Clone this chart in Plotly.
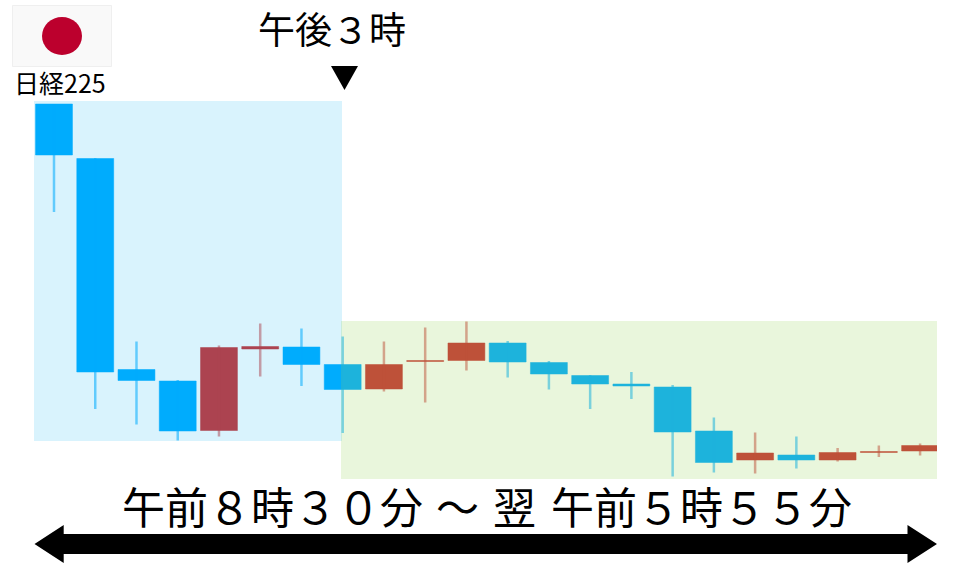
import plotly.graph_objects as go

index = list(range(22))
opens = [375, 320.5, 109.5, 98, 48.5, 130, 132, 114.5, 90, 117.5, 118.5, 136, 116.5, 103.5, 95, 92, 48, 19, 24, 19, 26.5, 28]
highs = [375, 321, 137.5, 99, 133.5, 155.5, 150.5, 142.5, 137.5, 151.5, 157.5, 138, 118, 104, 107, 94, 61.5, 46.5, 42.5, 31, 33.5, 35.5]
lows = [267, 70, 54.5, 38.5, 42.5, 102.5, 93, 46, 87.5, 76.5, 108.5, 101.5, 89.5, 70, 80, 2.5, 6.5, 5.5, 10.5, 17.5, 22, 23.5]
closes = [324, 107, 98.5, 48, 131.5, 132.5, 114.5, 89.5, 114.5, 118.5, 136, 117, 105, 95, 93, 47, 16.5, 26, 19, 26.5, 27.5, 33.5]

top_label = "午後３時"
span_start = "午前８時３０分"
span_tilde = "～"
span_next = "翌"
span_end = "午前５時５５分"
flag_label = "日経225"
FONT = "Noto Sans CJK JP"
W, H = 960, 567


def px(x):
    return x / W


def py(y):
    return 1 - y / H


def pth(points):
    return "M" + " L".join(f"{px(x):.5f},{py(y):.5f}" for x, y in points) + " Z"


fig = go.Figure()


def add_candles(rising, fill, edge, wick):
    rows = [i for i in index if (closes[i] > opens[i]) == rising]
    tops = [max(opens[i], closes[i]) for i in rows]
    bottoms = [min(opens[i], closes[i]) for i in rows]
    fig.add_trace(go.Bar(
        x=rows,
        base=bottoms,
        y=[t - b for t, b in zip(tops, bottoms)],
        width=0.895,
        marker=dict(color=fill, line=dict(width=1, color=edge)),
        error_y=dict(
            type="data", symmetric=False,
            array=[highs[i] - t for i, t in zip(rows, tops)],
            arrayminus=[t - lows[i] for i, t in zip(rows, tops)],
            color=wick, thickness=2.5, width=0,
        ),
        showlegend=False, hoverinfo="skip",
    ))


add_candles(True, "#CA3134", "rgba(202,49,52,0.5)", "rgba(202,49,52,0.5)")
add_candles(False, "#00ACFF", "rgba(0,172,255,0.5)", "rgba(0,172,255,0.55)")


def rect(x0, y0, x1, y1, **kw):
    return dict(type="rect", xref="paper", yref="paper", x0=px(x0), x1=px(x1), y0=py(y0), y1=py(y1), **kw)


shapes = [
    rect(34, 101, 342, 441, fillcolor="rgba(0,176,240,0.15)", line_width=0, layer="above"),
    rect(341, 321, 937, 479, fillcolor="rgba(146,208,80,0.2)", line_width=0, layer="above"),
    rect(12.5, 5.5, 111.5, 66.5, fillcolor="#F9F9F9", line=dict(color="#EFEFEF", width=1)),
    dict(type="circle", xref="paper", yref="paper", x0=px(42), x1=px(82), y0=py(17), y1=py(55),
         fillcolor="#BC002D", line_width=0),
    dict(type="path", xref="paper", yref="paper", fillcolor="#000000", line_width=0,
         path=pth([(331, 66), (358, 66), (344.5, 90)])),
    dict(type="path", xref="paper", yref="paper", fillcolor="#000000", line_width=0,
         path=pth([(34.5, 544), (63.7, 525), (63.7, 534), (907.5, 534), (907.5, 525), (937, 544),
                   (907.5, 563), (907.5, 554), (63.7, 554), (63.7, 563)])),
]

big = dict(size=43, color="#000000", family=FONT)
annotations = [
    dict(text=top_label, x=px(331.5), y=py(28), font=dict(size=37, color="#000000", family=FONT)),
    dict(text=span_start, x=px(272.5), y=py(505), font=big),
    dict(text=span_tilde, x=px(457.5), y=py(505), font=big),
    dict(text=span_next, x=px(514), y=py(505), font=big),
    dict(text=span_end, x=px(701.5), y=py(505), font=big),
    dict(text=flag_label, x=px(60), y=py(82), font=dict(size=25, color="#000000", family=FONT)),
]
for a in annotations:
    a.update(xref="paper", yref="paper", showarrow=False, xanchor="center", yanchor="middle")

fig.update_layout(
    width=W, height=H, margin=dict(l=0, r=0, t=0, b=0),
    paper_bgcolor="#FFFFFF", plot_bgcolor="rgba(0,0,0,0)",
    showlegend=False, barmode="overlay", shapes=shapes, annotations=annotations,
    xaxis=dict(domain=[px(34), px(937)], range=[-0.485, 21.41], visible=False, fixedrange=True),
    yaxis=dict(domain=[py(479), py(101)], range=[0, 378], visible=False, fixedrange=True),
)
fig.write_html("out.html", config=dict(displayModeBar=False),
               post_script="document.body.style.margin='0';document.documentElement.style.overflow='hidden';")
